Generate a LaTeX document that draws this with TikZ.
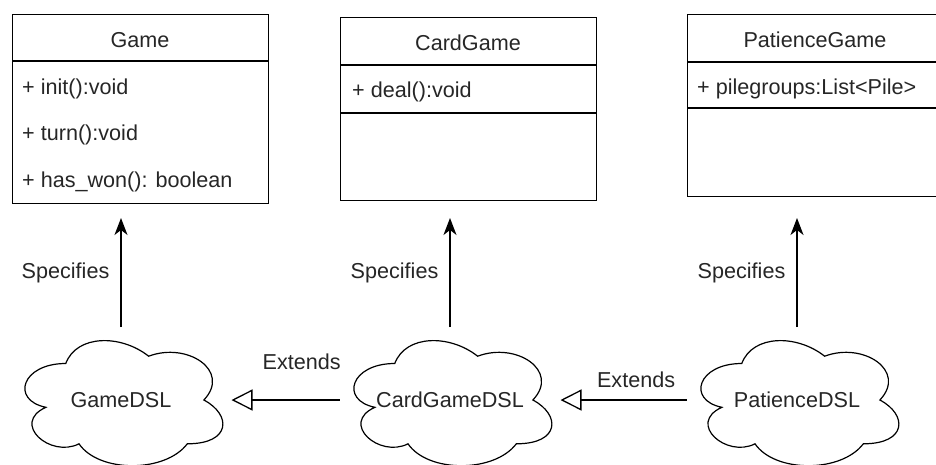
\documentclass[tikz,border=0pt]{standalone}
\usepackage[]{fontspec}
\setmainfont{Liberation Sans}
\usetikzlibrary{arrows.meta}
\usetikzlibrary{positioning}
\tikzset{classbox/.style = {draw, line width = 1.3, anchor = north west, minimum width = 256, inner sep = 0}}
\tikzset{classname/.style = {anchor = base, inner sep = 0, text = black!85}}
\tikzset{member/.style = {anchor = base west, inner sep = 0, text = black!85}}
\tikzset{dsl/.style = {minimum width = 221, minimum height = 146, inner sep = 0, outer sep = 0, text = black!85}}
\tikzset{lbl/.style = {inner sep = 0, text = black!85}}
\tikzset{specifies/.style = {line width = 1.3, -{Stealth[length = 17pt, width = 13pt, inset = 5pt]}}}
\tikzset{extends/.style = {line width = 1.3, -{Triangle[open, length = 21pt, width = 21pt]}}}
\tikzset{dslcloud/.pic = {
    \draw [line width = 1.2] (-0.25,-0.25) .. controls (-0.45,-0.25) and (-0.5,0) .. (-0.34,0.05)
        .. controls (-0.5,0.16) and (-0.32,0.4) .. (-0.19,0.3)
        .. controls (-0.1,0.5) and (0.2,0.5) .. (0.3,0.3)
        .. controls (0.5,0.3) and (0.5,0.1) .. (0.375,0)
        .. controls (0.5,-0.2) and (0.3,-0.4) .. (0.125,-0.3)
        .. controls (0,-0.45) and (-0.2,-0.45) .. (-0.25,-0.25) -- cycle;
}}
\begin{document}
\begin{tikzpicture}[x = 1pt, y = -1pt, font = \fontsize{21.6}{26}\selectfont]
            \useasboundingbox (0,0) rectangle (936,464);
            \clip (0,0) rectangle (936,464);
            \node [classbox, minimum height = 189] (game) at (12,14) {};
            \draw [line width = 1.3] ([yshift = -47pt]game.north west) -- ([yshift = -47pt]game.north east);
            \node [classname] (gamename) at (140,47) {Game};
            \node [member] (init) at (22,94) {+ init():void};
            \node [member] (turn) at (22,140.5) {+ turn():void};
            \node [member] (haswon) at (22,187.5) {+ has\_won(): boolean};
            \node [classbox, minimum height = 183] (cardgame) at (340,17) {};
            \draw [line width = 1.3] ([yshift = -48pt]cardgame.north west) -- ([yshift = -48pt]cardgame.north east);
            \draw [line width = 1.3] ([yshift = -96pt]cardgame.north west) -- ([yshift = -96pt]cardgame.north east);
            \node [classname] (cardgamename) at (468,50) {CardGame};
            \node [member] (deal) at (352,97) {+ deal():void};
            \node [classbox, minimum height = 182] (patiencegame) at (687,14) {};
            \draw [line width = 1.3] ([yshift = -48pt]patiencegame.north west) -- ([yshift = -48pt]patiencegame.north east);
            \draw [line width = 1.3] ([yshift = -94pt]patiencegame.north west) -- ([yshift = -94pt]patiencegame.north east);
            \node [classname] (patiencegamename) at (815,47) {PatienceGame};
            \node [member] (pilegroups) at (697,94) {+ pilegroups:List<Pile>};
            \pic [xscale = 221, yscale = 146] at (121,400) {dslcloud};
            \pic [xscale = 221, yscale = 146] at (450,400) {dslcloud};
            \pic [xscale = 221, yscale = 146] at (797,400) {dslcloud};
            \node [dsl] (gamedsl) at (121,400) {GameDSL};
            \node [dsl] (cardgamedsl) at (450,400) {CardGameDSL};
            \node [dsl] (patiencedsl) at (797,400) {PatienceDSL};
            \coordinate (gametip) at (121,218);
            \coordinate (cardgametip) at (450,218);
            \coordinate (patiencetip) at (797,218);
            \draw [specifies] (gamedsl.north) -- node [lbl, left = 11pt] {Specifies} (gametip);
            \draw [specifies] (cardgamedsl.north) -- node [lbl, left = 11pt] {Specifies} (cardgametip);
            \draw [specifies] (patiencedsl.north) -- node [lbl, left = 11pt] {Specifies} (patiencetip);
            \draw [extends] (cardgamedsl.west) -- node [lbl, pos = 0.35, yshift = 38pt] {Extends} (gamedsl.east);
            \draw [extends] (patiencedsl.west) -- node [lbl, pos = 0.4, yshift = 20pt] {Extends} (cardgamedsl.east);
        \end{tikzpicture}
\end{document}
